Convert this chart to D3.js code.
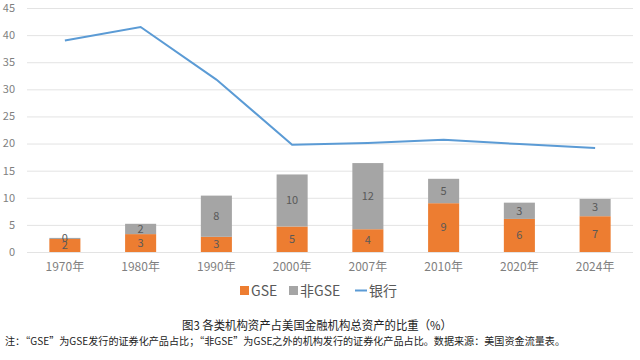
<!DOCTYPE html>
<html>
<head>
<meta charset="utf-8">
<style>
  body { margin: 0; background: #fff; }
  text { font-family: "Noto Sans CJK SC", "Noto Sans", sans-serif; }
</style>
</head>
<body>
<script src="https://cdn.jsdelivr.net/npm/d3@7"></script>
<script>
// categories and series
var years = ["1970年", "1980年", "1990年", "2000年", "2007年", "2010年", "2020年", "2024年"];
var gse = [2.4, 3.3, 2.8, 4.7, 4.2, 9.0, 6.1, 6.6];
var nonGse = [0.2, 1.9, 7.6, 9.6, 12.2, 4.5, 3.0, 3.2];
var bank = [39.0, 41.5, 31.8, 19.8, 20.1, 20.7, 19.9, 19.2];
var yTicks = [0, 5, 10, 15, 20, 25, 30, 35, 40, 45];

var W = 640, H = 360;
var margin = {top: 8, right: 7, bottom: 108, left: 27};

var svg = d3.select("body").append("svg")
  .attr("width", W).attr("height", H);

var x = d3.scaleBand().domain(years)
  .range([margin.left, W - margin.right])
  .paddingInner(0.59).paddingOuter(0.295);
var y = d3.scaleLinear().domain([0, 45])
  .range([H - margin.bottom, margin.top]);

// gridlines
svg.append("g").selectAll("line")
  .data(yTicks).enter().append("line")
  .attr("x1", margin.left).attr("x2", W - margin.right)
  .attr("y1", function(d) { return y(d) + 0.5; })
  .attr("y2", function(d) { return y(d) + 0.5; })
  .attr("stroke", "#e3e3e3").attr("stroke-width", 1);

// y labels
svg.append("g").selectAll("text")
  .data(yTicks).enter().append("text")
  .attr("x", 15).attr("y", function(d) { return y(d); })
  .attr("dy", "0.35em")
  .attr("text-anchor", "end")
  .attr("fill", "#7f7f7f").attr("font-size", 11)
  .text(function(d) { return d; });

// x labels
svg.append("g").selectAll("text")
  .data(years).enter().append("text")
  .attr("x", function(d) { return x(d) + x.bandwidth() / 2; })
  .attr("y", y(0) + 19)
  .attr("text-anchor", "middle")
  .attr("fill", "#7f7f7f").attr("font-size", 12)
  .text(function(d) { return d; });

// stacked bars
var rows = years.map(function(d, i) { return {year: d, gse: gse[i], non: nonGse[i]}; });
var stack = d3.stack().keys(["gse", "non"])(rows);
var colors = {gse: "#ed7d31", non: "#a5a5a5"};

stack.forEach(function(layer) {
  var g = svg.append("g");
  g.selectAll("rect").data(layer).enter().append("rect")
    .attr("x", function(d) { return x(d.data.year); })
    .attr("width", x.bandwidth())
    .attr("y", function(d) { return y(d[1]); })
    .attr("height", function(d) { return y(d[0]) - y(d[1]); })
    .attr("fill", colors[layer.key]);
  g.selectAll("text").data(layer).enter().append("text")
    .attr("x", function(d) { return x(d.data.year) + x.bandwidth() / 2; })
    .attr("y", function(d) { return (y(d[0]) + y(d[1])) / 2; })
    .attr("dy", "0.35em")
    .attr("text-anchor", "middle")
    .attr("fill", "#595959").attr("font-size", 11)
    .text(function(d) { return Math.round(d[1] - d[0]); });
});

// bank line
var line = d3.line()
  .x(function(d, i) { return x(years[i]) + x.bandwidth() / 2; })
  .y(function(d) { return y(d); });
svg.append("path").datum(bank)
  .attr("d", line)
  .attr("fill", "none")
  .attr("stroke", "#5b9bd5").attr("stroke-width", 2);

// legend
var lg = svg.append("g").attr("font-size", 14).attr("fill", "#595959");
lg.append("rect").attr("x", 240).attr("y", 286).attr("width", 9).attr("height", 9).attr("fill", "#ed7d31");
lg.append("text").attr("x", 251).attr("y", 296).text("GSE");
lg.append("rect").attr("x", 289).attr("y", 286).attr("width", 9).attr("height", 9).attr("fill", "#a5a5a5");
lg.append("text").attr("x", 300).attr("y", 296).text("非GSE");
lg.append("line").attr("x1", 355).attr("x2", 367).attr("y1", 290.5).attr("y2", 290.5)
  .attr("stroke", "#5b9bd5").attr("stroke-width", 2);
lg.append("text").attr("x", 369).attr("y", 296).text("银行");

// title and note
svg.append("text")
  .attr("x", 317).attr("y", 330)
  .attr("text-anchor", "middle")
  .attr("font-size", 12).attr("fill", "#222")
  .attr("textLength", 270).attr("lengthAdjust", "spacingAndGlyphs")
  .text("图3 各类机构资产占美国金融机构总资产的比重（%）");
svg.append("text")
  .attr("x", 5).attr("y", 345)
  .attr("font-size", 10).attr("fill", "#222")
  .attr("textLength", 560).attr("lengthAdjust", "spacingAndGlyphs")
  .text("注：“GSE”为GSE发行的证券化产品占比；“非GSE”为GSE之外的机构发行的证券化产品占比。数据来源：美国资金流量表。");
</script>
</body>
</html>
